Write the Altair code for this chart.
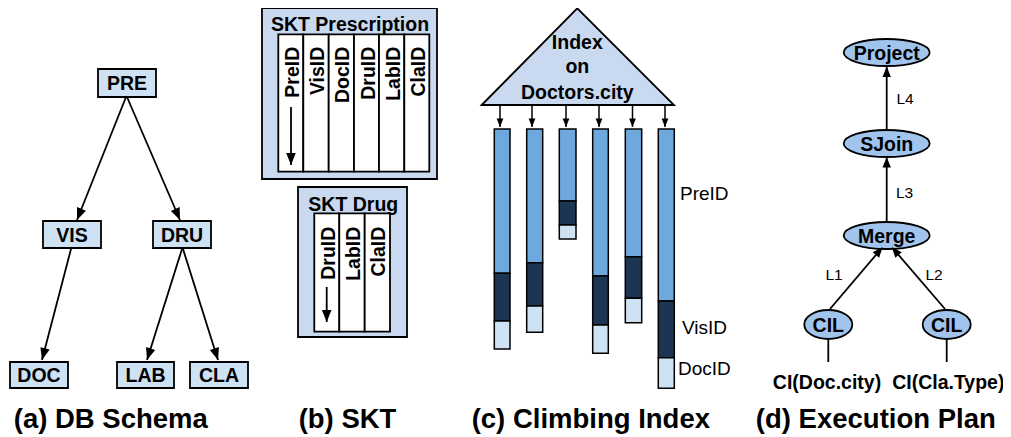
import math
import altair as alt
import pandas as pd

FONT = "Liberation Sans"

# ---------------- (a) DB Schema ----------------
schema_names = ["PRE", "VIS", "DRU", "DOC", "LAB", "CLA"]
schema_x1 = [98, 43, 153, 10, 117, 190]
schema_x2 = [156, 101, 211, 68, 174, 248]
schema_y1 = [69, 221, 221, 362, 362, 362]
schema_y2 = [97, 248, 248, 388, 388, 388]
schema_from_x = [126, 127, 71, 182, 183]
schema_from_y = [97, 97, 249, 249, 249]
schema_to_x = [77, 180, 42, 147, 218]
schema_to_y = [220, 220, 360, 360, 360]

# ---------------- (b) SKT ----------------
skt_titles = ["SKT Prescription", "SKT Drug"]
skt_box_x1 = [262, 298]
skt_box_x2 = [437, 407]
skt_box_y1 = [8, 187]
skt_box_y2 = [179, 337]
skt_title_x = [350, 353.3]
skt_title_y = [24.5, 204.5]
presc_cols = ["PreID", "VisID", "DocID", "DruID", "LabID", "ClaID"]
presc_edges = [278.3, 303.3, 328.7, 354, 379, 404.3, 429.3]
presc_table_y = [34.3, 171.7]
presc_label_top = 46.7
drug_cols = ["DruID", "LabID", "ClaID"]
drug_edges = [314.3, 339.3, 364.7, 390]
drug_table_y = [213.3, 331.7]
drug_label_top = 226.7
skt_arrow_x = [291, 326.7]
skt_arrow_y1 = [107, 287]
skt_arrow_y2 = [165, 322]

# ---------------- (c) Climbing Index ----------------
index_text = ["Index", "on", "Doctors.city"]
index_text_y = [42.5, 66.8, 92.5]
index_text_x = 577.3
tri_x = [481.7, 577.3, 674]
tri_y = [105, 8.3, 105]
tri_base = 105
bar_x1 = [494.3, 526.7, 559.3, 592.7, 625.3, 658.3]
bar_x2 = [510, 542.7, 576, 608.3, 641.7, 674.3]
bar_top = 129
pre_end = [273.3, 262.7, 201, 276, 256.7, 301]
vis_end = [321, 306, 225, 325, 298.3, 357.7]
doc_end = [349, 332.3, 239, 353.3, 322.7, 388.3]
idx_arrow_x = [500, 532, 566, 599, 632.5, 665]
idx_arrow_y1 = 105
idx_arrow_y2 = 127
ci_labels = ["PreID", "VisID", "DocID"]
ci_label_x = [680, 682, 678]
ci_label_y = [194, 328.3, 369]

# ---------------- (d) Execution Plan ----------------
plan_nodes = ["Project", "SJoin", "Merge"]
plan_x = [886.7, 886.7, 886.7]
plan_y = [52.5, 143.5, 235.5]
cil_x = [828.3, 946.7]
cil_y = [324.5, 324.5]
plan_from_x = [886.7, 886.7, 830, 945]
plan_from_y = [130.5, 222.5, 309, 309]
plan_to_x = [886.7, 886.7, 882.7, 891.7]
plan_to_y = [66.5, 157, 247, 247]
edge_labels = ["L4", "L3", "L1", "L2"]
edge_label_x = [905, 904.5, 834, 934]
edge_label_y = [99.3, 192.7, 275, 275]
stem_y1 = 339
stem_y2 = 362
ci_names = ["CI(Doc.city)", "CI(Cla.Type)"]
ci_name_x = [827, 948.3]
ci_name_y = 382.5

captions = ["(a) DB Schema", "(b) SKT", "(c) Climbing Index", "(d) Execution Plan"]
caption_x = [110.8, 347.5, 590.8, 875.8]
caption_y = 428.3

# ---------------- styles ----------------
C_BOX = "#cfe2f3"
C_SKT = "#c9daf0"
C_BAR = ["#6fa8dc", "#1c3553", "#cfe2f3"]
C_ELL = "#a0c4ec"

xs = alt.Scale(domain=[8, 1003], nice=False, zero=False)
ys = alt.Scale(domain=[437, 8], nice=False, zero=False)


def X(f):
    return alt.X(f, type="quantitative", scale=xs, axis=None)


def Y(f):
    return alt.Y(f, type="quantitative", scale=ys, axis=None)


def ellipse_path(r):
    k = 0.5523
    return (f"M-1,0C-1,{-k*r:.4f} {-k:.4f},{-r:.4f} 0,{-r:.4f}"
            f"C{k:.4f},{-r:.4f} 1,{-k*r:.4f} 1,0"
            f"C1,{k*r:.4f} {k:.4f},{r:.4f} 0,{r:.4f}"
            f"C{-k:.4f},{r:.4f} -1,{k*r:.4f} -1,0Z")


ARROW = "M0,0L-0.4,1L0.4,1Z"

# ---- rect tables ----
rows_outer = []
for i in range(2):
    rows_outer.append(dict(x1=skt_box_x1[i], x2=skt_box_x2[i], y1=skt_box_y1[i],
                           y2=skt_box_y2[i], fill=C_SKT, sw=1.8))
rows_cols = []
for edges, ty in ((presc_edges, presc_table_y), (drug_edges, drug_table_y)):
    for a, b in zip(edges[:-1], edges[1:]):
        rows_cols.append(dict(x1=a, x2=b, y1=ty[0], y2=ty[1], fill="white", sw=1.8))
rows_bars = []
for i in range(len(bar_x1)):
    segs = [(bar_top, pre_end[i]), (pre_end[i], vis_end[i]), (vis_end[i], doc_end[i])]
    for j, (a, b) in enumerate(segs):
        rows_bars.append(dict(x1=bar_x1[i], x2=bar_x2[i], y1=a, y2=b, fill=C_BAR[j], sw=1.5))
rows_schema = []
for i in range(len(schema_names)):
    rows_schema.append(dict(x1=schema_x1[i], x2=schema_x2[i], y1=schema_y1[i],
                            y2=schema_y2[i], fill=C_BOX, sw=1.8))


def rect_layer(rows):
    return alt.Chart(pd.DataFrame(rows)).mark_rect(stroke="black").encode(
        x=X("x1"), x2="x2", y=Y("y1"), y2="y2",
        fill=alt.Fill("fill:N", scale=None),
        strokeWidth=alt.StrokeWidth("sw:Q", scale=None),
    )


# ---- shafts and arrowheads ----
shafts = []
heads = []


def add_arrow(x1, y1, x2, y2, sw, length):
    shafts.append(dict(x1=x1, y1=y1, x2=x2, y2=y2, sw=sw))
    ang = math.degrees(math.atan2(x2 - x1, -(y2 - y1))) % 360
    heads.append(dict(x=x2, y=y2, angle=ang, size=(2 * length) ** 2))


for i in range(len(schema_from_x)):
    add_arrow(schema_from_x[i], schema_from_y[i], schema_to_x[i], schema_to_y[i], 1.8, 12)
for i in range(2):
    add_arrow(skt_arrow_x[i], skt_arrow_y1[i], skt_arrow_x[i], skt_arrow_y2[i], 1.8, 12)
for xa in idx_arrow_x:
    add_arrow(xa, idx_arrow_y1, xa, idx_arrow_y2, 1.5, 8.5)
for i in range(len(plan_from_x)):
    add_arrow(plan_from_x[i], plan_from_y[i], plan_to_x[i], plan_to_y[i], 1.8, 10.5)
for xa in cil_x:
    shafts.append(dict(x1=xa, y1=stem_y1, x2=xa, y2=stem_y2, sw=1.8))

shaft_layer = alt.Chart(pd.DataFrame(shafts)).mark_rule(color="black").encode(
    x=X("x1"), y=Y("y1"), x2="x2", y2="y2",
    strokeWidth=alt.StrokeWidth("sw:Q", scale=None),
)
head_layer = alt.Chart(pd.DataFrame(heads)).mark_point(
    shape=ARROW, filled=True, color="black", opacity=1, strokeWidth=0
).encode(
    x=X("x"), y=Y("y"),
    angle=alt.Angle("angle:Q", scale=None),
    size=alt.Size("size:Q", scale=None),
)

# ---- index triangle ----
tri_layer = alt.Chart(pd.DataFrame({"x": tri_x, "y": tri_y, "b": [tri_base] * 3})).mark_area(
    fill=C_SKT, stroke="black", strokeWidth=1.8, opacity=1, interpolate="linear"
).encode(x=X("x"), y=Y("y"), y2="b")

# ---- ellipses ----
big_ell = alt.Chart(pd.DataFrame({"x": plan_x, "y": plan_y})).mark_point(
    shape=ellipse_path(13.5 / 43), filled=True, fill=C_ELL, stroke="black",
    strokeWidth=1.8, opacity=1, size=(2 * 43) ** 2
).encode(x=X("x"), y=Y("y"))
cil_ell = alt.Chart(pd.DataFrame({"x": cil_x, "y": cil_y})).mark_point(
    shape=ellipse_path(14.5 / 24), filled=True, fill=C_ELL, stroke="black",
    strokeWidth=1.8, opacity=1, size=(2 * 24) ** 2
).encode(x=X("x"), y=Y("y"))

# ---- texts ----
bold_rows = []
for i, n in enumerate(schema_names):
    bold_rows.append(dict(t=n, x=(schema_x1[i] + schema_x2[i]) / 2,
                          y=(schema_y1[i] + schema_y2[i]) / 2 + 1))
for i in range(2):
    bold_rows.append(dict(t=skt_titles[i], x=skt_title_x[i], y=skt_title_y[i]))
for t, y in zip(index_text, index_text_y):
    bold_rows.append(dict(t=t, x=index_text_x, y=y))
for i, n in enumerate(plan_nodes):
    bold_rows.append(dict(t=n, x=plan_x[i], y=plan_y[i] + 1))
for i in range(2):
    bold_rows.append(dict(t="CIL", x=cil_x[i], y=cil_y[i] + 1))
for i in range(2):
    bold_rows.append(dict(t=ci_names[i], x=ci_name_x[i], y=ci_name_y))

bold_layer = alt.Chart(pd.DataFrame(bold_rows)).mark_text(
    font=FONT, fontWeight="bold", fontSize=19.5, align="center", baseline="middle", color="black"
).encode(x=X("x"), y=Y("y"), text="t:N")

rot_rows = []
for cols, edges, top in ((presc_cols, presc_edges, presc_label_top),
                         (drug_cols, drug_edges, drug_label_top)):
    for i, c in enumerate(cols):
        rot_rows.append(dict(t=c, x=(edges[i] + edges[i + 1]) / 2 + 2, y=top))
rot_layer = alt.Chart(pd.DataFrame(rot_rows)).mark_text(
    font=FONT, fontWeight="bold", fontSize=19.5, align="right", baseline="middle",
    angle=270, color="black"
).encode(x=X("x"), y=Y("y"), text="t:N")

ci_layer = alt.Chart(pd.DataFrame({"t": ci_labels, "x": ci_label_x, "y": ci_label_y})).mark_text(
    font=FONT, fontSize=19, align="left", baseline="middle", color="black"
).encode(x=X("x"), y=Y("y"), text="t:N")

edge_layer = alt.Chart(pd.DataFrame({"t": edge_labels, "x": edge_label_x, "y": edge_label_y})).mark_text(
    font=FONT, fontSize=15.5, align="center", baseline="middle", color="black"
).encode(x=X("x"), y=Y("y"), text="t:N")

cap_layer = alt.Chart(pd.DataFrame({"t": captions, "x": caption_x, "y": [caption_y] * 4})).mark_text(
    font=FONT, fontWeight="bold", fontSize=27.5, align="center", baseline="alphabetic", color="black"
).encode(x=X("x"), y=Y("y"), text="t:N")

chart = alt.layer(
    rect_layer(rows_outer),
    rect_layer(rows_cols),
    tri_layer,
    rect_layer(rows_bars),
    shaft_layer,
    rect_layer(rows_schema),
    big_ell,
    cil_ell,
    head_layer,
    bold_layer,
    rot_layer,
    ci_layer,
    edge_layer,
    cap_layer,
).properties(
    width=995, height=429, padding=0,
    autosize=alt.AutoSizeParams(type="none"),
    background="white",
).configure_view(stroke=None)

chart.save("out.html", embed_options={"renderer": "svg", "actions": False})
